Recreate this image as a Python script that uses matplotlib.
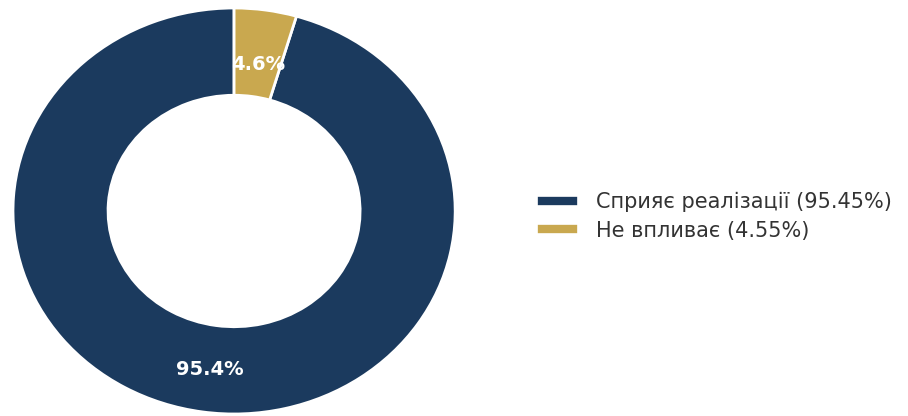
import matplotlib
matplotlib.use("Agg")
import matplotlib.pyplot as plt
from matplotlib.lines import Line2D

categories = ["Сприяє реалізації", "Не впливає"]
shares = [95.45, 4.55]
colors = ["#1b3a5e", "#c9a84f"]

fig = plt.figure(figsize=(9.08, 4.16), dpi=100)
ax = fig.add_axes([0.0143, 0.0048, 0.487, 0.976])

wedges, texts, autotexts = ax.pie(
    shares, colors=colors, startangle=90, counterclock=True,
    autopct="%1.1f%%", pctdistance=0.76,
    wedgeprops=dict(width=0.43, edgecolor="white", linewidth=2),
    textprops=dict(color="white", fontsize=14, fontweight="bold"),
)
# labels sit slightly lower than the default centering
for t in autotexts:
    x, y = t.get_position()
    t.set_position((x, y - 0.03))
ax.set_aspect("auto")
ax.set_xlim(-1, 1)
ax.set_ylim(-1, 1)

handles = [Line2D([0], [0], color=c, lw=6) for c in colors]
labels = [f"{c} ({s:.2f}%)" for c, s in zip(categories, shares)]
fig.legend(handles, labels, loc="center left", bbox_to_anchor=(0.576, 0.48),
           frameon=False, fontsize=15, handlelength=1.5, labelspacing=0.4,
           handletextpad=1.1, labelcolor="#333333")

fig.savefig("out.png", dpi=100)
